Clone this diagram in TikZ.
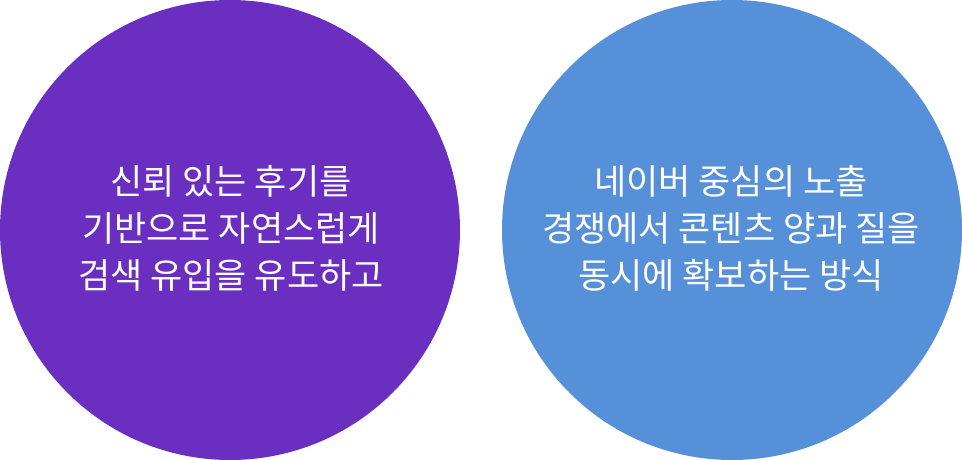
\documentclass[tikz,border=0pt]{standalone}
\usepackage{fontspec}
\newfontfamily\kr{Noto Sans CJK KR}
\definecolor{cpurple}{HTML}{6A2FC0}
\definecolor{cblue}{HTML}{5590D9}
\tikzset{
  bubble/.style={circle, minimum size=460pt, inner sep=0pt, draw=none},
  label text/.style={text=white, align=center, font=\kr\fontsize{35pt}{47pt}\selectfont}
}
\begin{document}
\begin{tikzpicture}[x=1pt,y=-1pt]
\useasboundingbox (0,0) rectangle (962,460);
\node[bubble, fill=cpurple] (left) at (230,230) {};
\node[bubble, fill=cblue] (right) at (732,230) {};
\node[label text] (lt) at (231,228) {신뢰 있는 후기를\\기반으로 자연스럽게\\검색 유입을 유도하고};
\node[label text] (rt) at (731,228) {네이버 중심의 노출\\경쟁에서 콘텐츠 양과 질을\\동시에 확보하는 방식};
\end{tikzpicture}
\end{document}
